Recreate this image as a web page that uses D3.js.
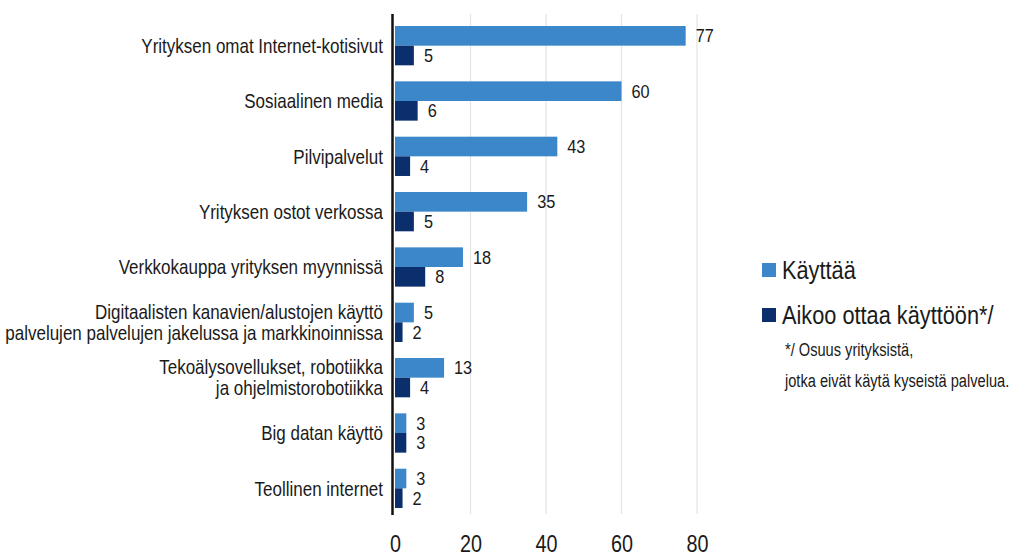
<!DOCTYPE html>
<html><head><meta charset="utf-8">
<script src="https://cdn.jsdelivr.net/npm/d3@7"></script>
<style>
body{margin:0;background:#fff;}
svg{display:block;font-family:"Liberation Sans",Arial,sans-serif;}
</style></head>
<body><svg id="c" width="1018" height="558"></svg>
<script>
const categories = [
  ["Yrityksen omat Internet-kotisivut"],
  ["Sosiaalinen media"],
  ["Pilvipalvelut"],
  ["Yrityksen ostot verkossa"],
  ["Verkkokauppa yrityksen myynnissä"],
  ["Digitaalisten kanavien/alustojen käyttö","palvelujen palvelujen jakelussa ja markkinoinnissa"],
  ["Tekoälysovellukset, robotiikka","ja ohjelmistorobotiikka"],
  ["Big datan käyttö"],
  ["Teollinen internet"]
];
const kayttaa = [77,60,43,35,18,5,13,3,3];
const aikoo = [5,6,4,5,8,2,4,3,2];
const seriesNames = ["Käyttää","Aikoo ottaa käyttöön*/"];
const note = ["*/ Osuus yrityksistä,","jotka eivät käytä kyseistä palvelua."];
const ticks = [0,20,40,60,80];
const colors = ["#3b87c9","#0b2f6d"];
const ink = "#1a1a1a";

const svg = d3.select("#c");
const x = d3.scaleLinear().domain([0,80]).range([395,697]);
const y = d3.scaleBand().domain(d3.range(categories.length)).range([18,516]).paddingInner(0.29).paddingOuter(0.145);
const sub = d3.scaleBand().domain([0,1]).range([0,y.bandwidth()]);

// gridlines
svg.append("g").selectAll("line").data(ticks.slice(1)).join("line")
  .attr("x1",d=>x(d)).attr("x2",d=>x(d)).attr("y1",14).attr("y2",514)
  .attr("stroke","#e3e3e3").attr("stroke-width",1.2);

// axis tick labels
const ax = svg.append("g").attr("transform","translate(0,514)")
  .call(d3.axisBottom(x).tickValues(ticks).tickSize(0).tickPadding(22));
ax.select(".domain").remove();
ax.selectAll("text").attr("font-size",23).attr("fill",ink)
  .attr("font-family","Liberation Sans, Arial, sans-serif")
  .attr("transform","scale(0.86,1)");

const data = categories.map((c,i)=>({c,i,v:[kayttaa[i],aikoo[i]]}));
const g = svg.append("g").selectAll("g").data(data).join("g")
  .attr("transform",d=>`translate(0,${y(d.i)})`);
g.selectAll("rect").data(d=>d.v.map((v,k)=>({v,k}))).join("rect")
  .attr("x",x(0)).attr("y",d=>sub(d.k)).attr("width",d=>x(d.v)-x(0))
  .attr("height",sub.bandwidth()).attr("fill",d=>colors[d.k]);
g.selectAll("text.val").data(d=>d.v.map((v,k)=>({v,k}))).join("text")
  .attr("class","val")
  .attr("transform",d=>`translate(${x(d.v)+10},${sub(d.k)+sub.bandwidth()/2}) scale(0.88,1)`)
  .attr("dy","0.35em").attr("font-size",18.5).attr("fill",ink).text(d=>d.v);

// category labels
g.each(function(d){
  const t = d3.select(this).append("text").attr("text-anchor","end")
    .attr("transform","translate(383,0) scale(0.85,1)")
    .attr("font-size",20).attr("fill",ink);
  const n = d.c.length;
  d.c.forEach((line,j)=>{
    t.append("tspan").attr("x",0)
     .attr("y",y.bandwidth()/2 + (j-(n-1)/2)*21)
     .attr("dy","0.36em").text(line);
  });
});

// axis line
svg.append("line").attr("x1",392.5).attr("x2",392.5).attr("y1",14).attr("y2",515)
  .attr("stroke","#111").attr("stroke-width",2.5);

// legend
const lg = svg.append("g");
seriesNames.forEach((s,k)=>{
  const yy = 270 + k*45;
  lg.append("rect").attr("x",762).attr("y",yy-7).attr("width",14).attr("height",14).attr("fill",colors[k]);
  lg.append("text").attr("transform",`translate(782,${yy}) scale(0.87,1)`)
    .attr("dy","0.36em").attr("font-size",25).attr("fill",ink).text(s);
});
note.forEach((s,j)=>{
  lg.append("text").attr("transform",`translate(785,${349+j*31}) scale(0.77,1)`)
    .attr("dy","0.36em").attr("font-size",19).attr("fill",ink).text(s);
});
</script></body></html>
